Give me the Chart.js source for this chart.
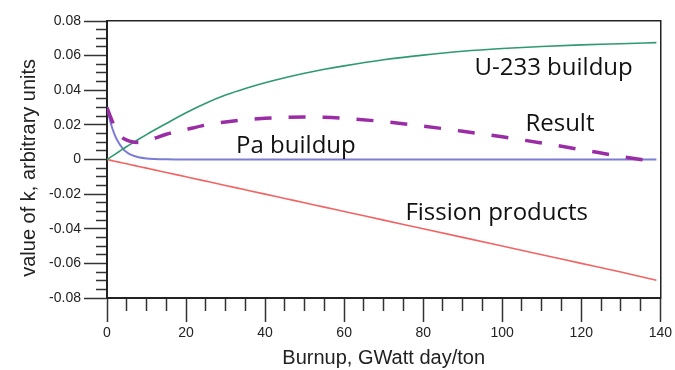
<!DOCTYPE html>
<html>
<head>
<meta charset="utf-8">
<title>Reactivity contributions vs burnup</title>
<script src="https://cdn.jsdelivr.net/npm/chart.js@4.4.1/dist/chart.umd.min.js"></script>
<style>
  html, body { margin: 0; padding: 0; background: #fff; }
  #wrap { width: 675px; height: 370px; }
</style>
</head>
<body>
<div id="wrap"><canvas id="kChart" width="675" height="370"></canvas></div>
<script>
// burnup in GWatt day/ton
const burnup = [0, 1, 2, 3, 4, 5, 6, 8, 10, 12, 15, 20, 25, 30, 35, 40, 45, 50, 55, 60, 70, 80, 90, 100, 110, 120, 130, 139];

// contributions to k (arbitrary units)
const u233Buildup = [0, 0.0015, 0.0030, 0.0045, 0.0060, 0.0075, 0.0089, 0.0117, 0.0144, 0.0170, 0.0208, 0.0270, 0.0325, 0.0372, 0.0410, 0.0443, 0.0472, 0.0498, 0.0521, 0.0541, 0.0576, 0.0603, 0.0625, 0.0641, 0.0653, 0.0662, 0.0669, 0.0675];
const paBuildup = [0.030, 0.0205, 0.0140, 0.0095, 0.0063, 0.0042, 0.0028, 0.0013, 0.0006, 0.0003, 0.0001, 0, 0, 0, 0, 0, 0, 0, 0, 0, 0, 0, 0, 0, 0, 0, 0, 0];
const fissionProducts = [0, -0.0005, -0.0010, -0.0015, -0.0020, -0.0025, -0.0030, -0.0040, -0.0050, -0.0060, -0.0075, -0.0100, -0.0125, -0.0150, -0.0175, -0.0200, -0.0225, -0.0250, -0.0275, -0.0300, -0.0350, -0.0400, -0.0450, -0.0500, -0.0550, -0.0600, -0.0650, -0.0697];
const result = [0.030, 0.0240, 0.0186, 0.0150, 0.0125, 0.0112, 0.0104, 0.0098, 0.0105, 0.0122, 0.0146, 0.0173, 0.0199, 0.0217, 0.0230, 0.0238, 0.0243, 0.0245, 0.0244, 0.0238, 0.0219, 0.0193, 0.0163, 0.0131, 0.0095, 0.0057, 0.0018, -0.0013];

// labelled axis ticks; minor ticks fall in between
const xMajor = [0, 20, 40, 60, 80, 100, 120, 140];
const yMajor = [-0.08, -0.06, -0.04, -0.02, 0, 0.02, 0.04, 0.06, 0.08];
const yLabels = ['-0.08', '-0.06', '-0.04', '-0.02', '0', '0.02', '0.04', '0.06', '0.08'];

// text placed next to each curve, in data units
const curveLabels = [
  { text: 'U-233 buildup', x: 113, y: 0.0487 },
  { text: 'Result', x: 114.6, y: 0.0165 },
  { text: 'Pa buildup', x: 47.8, y: 0.0035 },
  { text: 'Fission products', x: 98.6, y: -0.0351 }
];

const xMinor = [];
for (let v = 0; v <= 140; v += 5) xMinor.push(v);
const yMinor = [];
for (let i = -16; i <= 16; i++) yMinor.push(Math.round(i * 5) / 1000);

function pts(ys) {
  return burnup.map((b, i) => ({ x: b, y: ys[i] }));
}
function isMajorY(v) {
  return yMajor.some(m => Math.abs(m - v) < 1e-9);
}

const curveLabelPlugin = {
  id: 'curveLabels',
  afterDatasetsDraw(chart) {
    const ctx = chart.ctx;
    const xs = chart.scales.x, ys = chart.scales.y;
    ctx.save();
    ctx.font = '24px "Open Sans"';
    ctx.fillStyle = '#111';
    ctx.textAlign = 'center';
    ctx.textBaseline = 'alphabetic';
    curveLabels.forEach(l => {
      ctx.fillText(l.text, xs.getPixelForValue(l.x), ys.getPixelForValue(l.y));
    });
    ctx.restore();
  }
};

const tickFont = { family: '"Liberation Sans", Arial, sans-serif', size: 14 };
const titleFont = { family: '"Liberation Sans", Arial, sans-serif', size: 20 };

new Chart(document.getElementById('kChart').getContext('2d'), {
  type: 'line',
  data: {
    datasets: [
      { label: 'Result', data: pts(result), borderColor: '#9a2ca6', borderWidth: 3.5, borderDash: [17, 17] },
      { label: 'U-233 buildup', data: pts(u233Buildup), borderColor: '#2f9a70', borderWidth: 1.6 },
      { label: 'Pa buildup', data: pts(paBuildup), borderColor: '#7c7cd6', borderWidth: 2 },
      { label: 'Fission products', data: pts(fissionProducts), borderColor: '#f26464', borderWidth: 1.6 }
    ]
  },
  options: {
    responsive: false,
    animation: false,
    events: [],
    layout: { padding: { top: 21, right: 14, left: 0, bottom: 0 } },
    elements: {
      point: { radius: 0 },
      line: { cubicInterpolationMode: 'monotone', fill: false }
    },
    plugins: {
      legend: { display: false },
      tooltip: { enabled: false }
    },
    scales: {
      x: {
        type: 'linear',
        position: 'bottom',
        min: 0,
        max: 140,
        afterFit: s => { s.height = 72; },
        afterBuildTicks: s => { s.ticks = xMinor.map(v => ({ value: v })); },
        ticks: {
          autoSkip: false,
          maxRotation: 0,
          padding: 3,
          color: '#222',
          font: tickFont,
          callback: v => xMajor.includes(v) ? String(v) : ''
        },
        grid: {
          display: true,
          drawOnChartArea: false,
          drawTicks: true,
          tickLength: 24,
          tickWidth: 1.5,
          tickColor: '#333',
          tickBorderDash: c => xMajor.includes(c.tick.value) ? [] : [12, 40]
        },
        border: { display: true, color: '#222', width: 2 },
        title: { display: true, text: 'Burnup, GWatt day/ton', color: '#222', font: titleFont, padding: { top: 0, bottom: 0 } }
      },
      y: {
        type: 'linear',
        position: 'left',
        min: -0.08,
        max: 0.08,
        afterFit: s => { s.width = 107; },
        afterBuildTicks: s => { s.ticks = yMinor.map(v => ({ value: v })); },
        ticks: {
          autoSkip: false,
          padding: 3,
          color: '#222',
          font: tickFont,
          callback: v => {
            const i = yMajor.findIndex(m => Math.abs(m - v) < 1e-9);
            return i >= 0 ? yLabels[i] : '';
          }
        },
        grid: {
          display: true,
          drawOnChartArea: false,
          drawTicks: true,
          tickLength: 23,
          tickWidth: 1.5,
          tickColor: '#333',
          tickBorderDash: c => isMajorY(c.tick.value) ? [] : [0, 12, 11, 0]
        },
        border: { display: true, color: '#222', width: 2 },
        // trailing spaces nudge the centred title a little toward the bottom
        title: { display: true, text: 'value of k, arbitrary units   ', color: '#222', font: titleFont, padding: { top: 17, bottom: 0 } }
      },
      // top and right edges of the plot frame
      xTop: {
        type: 'linear', position: 'top', min: 0, max: 140, display: true,
        afterFit: s => { s.height = 0; },
        ticks: { display: false },
        grid: { display: false },
        border: { display: true, color: '#222', width: 1.5 }
      },
      yRight: {
        type: 'linear', position: 'right', min: -0.08, max: 0.08, display: true,
        afterFit: s => { s.width = 0; },
        ticks: { display: false },
        grid: { display: false },
        border: { display: true, color: '#222', width: 1.5 }
      }
    }
  },
  plugins: [curveLabelPlugin]
});
</script>
</body>
</html>
